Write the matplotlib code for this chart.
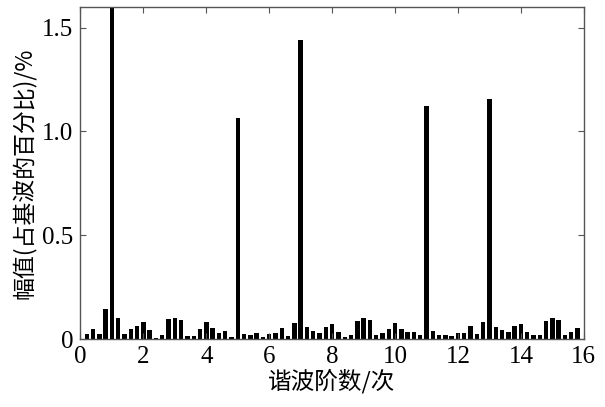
import numpy as np
import matplotlib
matplotlib.use("Agg")
import matplotlib.pyplot as plt

# harmonic order (0.2 step) and amplitude (% of fundamental)
order = np.arange(1, 80) * 0.2
amp = [0.024, 0.046, 0.024, 0.144, 100.0,
       0.099, 0.024, 0.046, 0.062, 0.080,
       0.043, 0.005, 0.020, 0.096, 0.099,
       0.094, 0.014, 0.014, 0.046, 0.080,
       0.053, 0.029, 0.038, 0.011, 1.066,
       0.024, 0.019, 0.027, 0.011, 0.024,
       0.027, 0.051, 0.013, 0.075, 1.442,
       0.060, 0.037, 0.027, 0.060, 0.072,
       0.032, 0.008, 0.019, 0.085, 0.099,
       0.094, 0.019, 0.027, 0.046, 0.075,
       0.046, 0.032, 0.032, 0.021, 1.121,
       0.040, 0.018, 0.018, 0.013, 0.027,
       0.027, 0.061, 0.024, 0.080, 1.155,
       0.057, 0.043, 0.034, 0.062, 0.072,
       0.033, 0.021, 0.021, 0.085, 0.099,
       0.091, 0.019, 0.033, 0.052]

xticks = [0, 2, 4, 6, 8, 10, 12, 14, 16]
yticks = [0, 0.5, 1.0, 1.5]
ytick_labels = ["0", "0.5", "1.0", "1.5"]

fig = plt.figure(figsize=(6.05, 4.07), dpi=100)
ax = fig.add_axes([0.133, 0.167, 0.832, 0.816])

ax.bar(order, amp, width=0.14, color="black")

ax.set_xlim(0, 16)
ax.set_ylim(0, 1.6)
ax.set_xticks(xticks)
ax.set_yticks(yticks)
ax.set_yticklabels(ytick_labels)

for lab in ax.get_xticklabels() + ax.get_yticklabels():
    lab.set_fontfamily("Liberation Serif")
    lab.set_fontsize(18)

ax.tick_params(direction="in", top=True, right=True, length=4,
               color="#555555", pad=5)
for sp in ax.spines.values():
    sp.set_color("#555555")
    sp.set_linewidth(1.0)

cjk = ["Noto Sans CJK SC", "DejaVu Sans"]
ax.set_xlabel("谐波阶数/次", family=cjk, fontsize=17, labelpad=1)
ax.set_ylabel("幅值(占基波的百分比)/%", family=cjk, fontsize=16.5, labelpad=4)

fig.savefig("out.png", dpi=100)
